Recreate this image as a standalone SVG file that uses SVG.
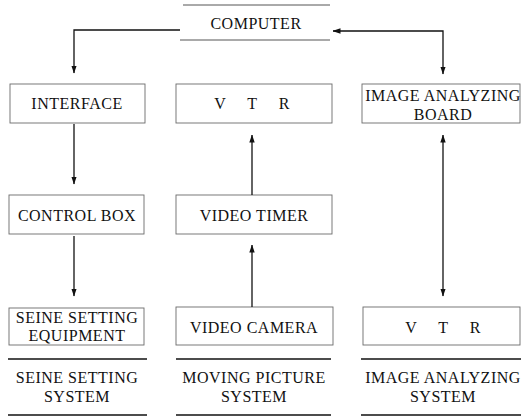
<svg xmlns="http://www.w3.org/2000/svg" width="522" height="416" viewBox="0 0 522 416">
<defs>
<style>
.box{fill:none;stroke:#6a6a6a;stroke-width:0.9}
.hl{stroke:#555;stroke-width:1}
.sep{stroke:#111;stroke-width:1.4}
.t{font-family:"Liberation Serif","Times New Roman",serif;font-size:16px;letter-spacing:0.5px;fill:#111;text-anchor:middle}
.c{fill:none;stroke:#111;stroke-width:1.3}
</style>
<marker id="ah" viewBox="0 0 8 8" refX="7.5" refY="4" markerWidth="8" markerHeight="8" markerUnits="userSpaceOnUse" orient="auto-start-reverse">
<path d="M0,1.3 L8,4 L0,6.7 Z" fill="#111"/>
</marker>
</defs>
<rect width="522" height="416" fill="#fff"/>
<g id="computer">
<line class="hl" x1="183" y1="5" x2="330" y2="5"/>
<line class="hl" x1="180" y1="40" x2="330" y2="40"/>
<text class="t" x="256" y="29">COMPUTER</text>
</g>
<g id="interface">
<rect class="box" x="10" y="84" width="135" height="39"/>
<text class="t" x="77" y="109">INTERFACE</text>
</g>
<g id="vtr1">
<rect class="box" x="176" y="84" width="156" height="39"/>
<text class="t" x="252" y="109" word-spacing="17">V T R</text>
</g>
<g id="iab">
<rect class="box" x="362" y="84" width="158" height="39"/>
<text class="t" x="443" y="101">IMAGE ANALYZING</text>
<text class="t" x="443" y="120">BOARD</text>
</g>
<g id="controlbox">
<rect class="box" x="9" y="195" width="135" height="39"/>
<text class="t" x="77" y="221">CONTROL BOX</text>
</g>
<g id="videotimer">
<rect class="box" x="176" y="195" width="156" height="39"/>
<text class="t" x="254" y="221">VIDEO TIMER</text>
</g>
<g id="seine">
<rect class="box" x="9" y="308" width="135" height="37"/>
<text class="t" x="77" y="323">SEINE SETTING</text>
<text class="t" x="77" y="341">EQUIPMENT</text>
</g>
<g id="camera">
<rect class="box" x="176" y="307" width="157" height="38"/>
<text class="t" x="254" y="333">VIDEO CAMERA</text>
</g>
<g id="vtr2">
<rect class="box" x="363" y="307" width="157" height="38"/>
<text class="t" x="443" y="333" word-spacing="17">V T R</text>
</g>
<g id="sys1">
<line class="sep" x1="8" y1="359" x2="147" y2="359"/>
<text class="t" x="77" y="383">SEINE SETTING</text>
<text class="t" x="77" y="402">SYSTEM</text>
<line class="sep" x1="8" y1="415" x2="147" y2="415"/>
</g>
<g id="sys2">
<line class="sep" x1="176" y1="359" x2="331" y2="359"/>
<text class="t" x="254" y="383">MOVING PICTURE</text>
<text class="t" x="254" y="402">SYSTEM</text>
<line class="sep" x1="176" y1="415" x2="331" y2="415"/>
</g>
<g id="sys3">
<line class="sep" x1="361" y1="359" x2="521" y2="359"/>
<text class="t" x="443" y="383">IMAGE ANALYZING</text>
<text class="t" x="443" y="402">SYSTEM</text>
<line class="sep" x1="361" y1="415" x2="521" y2="415"/>
</g>
<g id="connectors">
<polyline class="c" points="180,30 74,30 74,73" marker-end="url(#ah)"/>
<polyline class="c" points="333,31 443,31 443,74" marker-start="url(#ah)" marker-end="url(#ah)"/>
<line class="c" x1="74" y1="124" x2="74" y2="184" marker-end="url(#ah)"/>
<line class="c" x1="74" y1="236" x2="74" y2="296" marker-end="url(#ah)"/>
<line class="c" x1="252" y1="195" x2="252" y2="135" marker-end="url(#ah)"/>
<line class="c" x1="252" y1="307" x2="252" y2="245" marker-end="url(#ah)"/>
<line class="c" x1="443" y1="135" x2="443" y2="296" marker-start="url(#ah)" marker-end="url(#ah)"/>
</g>
</svg>
